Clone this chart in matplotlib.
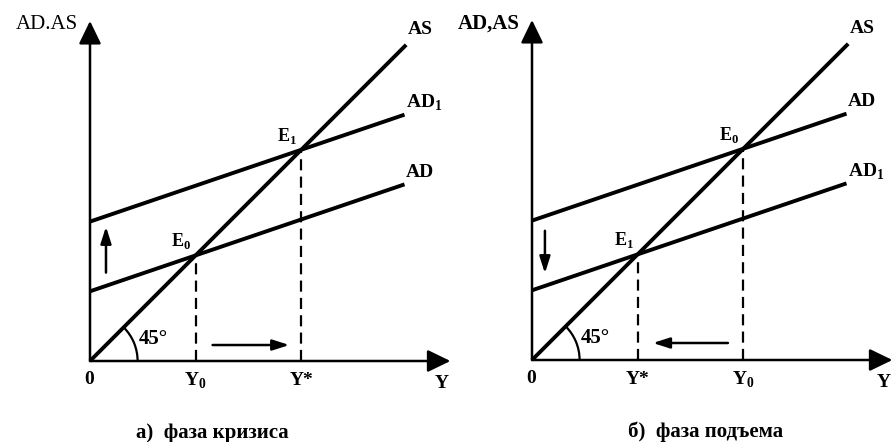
import numpy as np
import matplotlib.pyplot as plt
from matplotlib.patches import Arc

plt.rcParams['font.family'] = ['Liberation Serif', 'DejaVu Serif']
plt.rcParams['mathtext.fontset'] = 'custom'
plt.rcParams['mathtext.rm'] = 'Liberation Serif'
plt.rcParams['mathtext.bf'] = 'Liberation Serif:bold'

# model: AS is the 45 degree line, AD = a + b*Y
ad_low = 2.05       # intercept of the lower demand line
ad_high = 4.1       # intercept of the upper demand line
ad_slope = 0.34
x_end = 9.25        # where the AD lines stop
as_end = 9.3
axis_top = 10.0
axis_right = 10.6

# panel a) crisis: AD -> AD1 shifts up;  panel b) boom: AD -> AD1 shifts down
panel_titles = ['а)  фаза кризиса', 'б)  фаза подъема']
ylabels = ['AD.AS', 'AD,AS']
ad_names = [['AD', 'AD$_\\mathbf{1}$'], ['AD$_\\mathbf{1}$', 'AD']]
e_names = [['E$_\\mathbf{0}$', 'E$_\\mathbf{1}$'], ['E$_\\mathbf{1}$', 'E$_\\mathbf{0}$']]
tick_names = [['Y$_\\mathbf{0}$', 'Y*'], ['Y*', 'Y$_\\mathbf{0}$']]

PX = 34.0  # pixels per model unit
fig = plt.figure(figsize=(8.92, 4.42), dpi=100)
ax = fig.add_axes([0, 0, 1, 1])
ax.set_xlim(0, 892 / PX)
ax.set_ylim(0, 442 / PX)
ax.axis('off')

origins = [(90 / PX, (442 - 361) / PX), (532 / PX, (442 - 360) / PX)]
caption_x = [3.6, 5.1]
LW = 2.8


def arrow(p0, p1, big=False):
    if big:
        style = '-|>,head_length=0.7,head_width=0.34'
        lw = 1.8
    else:
        style = '-|>,head_length=0.5,head_width=0.16'
        lw = 1.8
    ax.annotate('', xy=p1, xytext=p0,
                arrowprops=dict(arrowstyle=style, lw=lw, color='black',
                                mutation_scale=20, shrinkA=0, shrinkB=0))


for k in range(2):
    ox, oy = origins[k]
    lower_first = (k == 0)
    intercepts = [ad_low, ad_high]
    e_vals = [a / (1 - ad_slope) for a in intercepts]

    # axes with arrows
    arrow((ox, oy), (ox, oy + axis_top), big=True)
    arrow((ox, oy), (ox + axis_right, oy), big=True)

    # AS line (45 degrees)
    xs = np.array([0, as_end])
    ax.plot(ox + xs, oy + xs, color='black', lw=LW, solid_capstyle='butt')
    ax.text(ox + as_end + 0.05, oy + as_end + 0.45, 'AS', fontsize=14,
            fontweight='bold', ha='left', va='center')

    # AD lines
    xs = np.array([0, x_end])
    for i, a in enumerate(intercepts):
        ys = a + ad_slope * xs
        ax.plot(ox + xs, oy + ys, color='black', lw=LW, solid_capstyle='butt')
        ax.text(ox + x_end + 0.05, oy + ys[-1] + 0.35, ad_names[k][i],
                fontsize=14, fontweight='bold', ha='left', va='center')

    # equilibria and dashed drop lines
    for i, e in enumerate(e_vals):
        ax.plot([ox + e, ox + e], [oy, oy + e], color='black', lw=1.6,
                dashes=(5, 2.8))
        ax.text(ox + e - 0.12, oy + e + 0.12, e_names[k][i], fontsize=13,
                fontweight='bold', ha='right', va='bottom')
        ax.text(ox + e, oy - 0.58, tick_names[k][i], fontsize=14,
                fontweight='bold', ha='center', va='center')

    # shift arrows
    if lower_first:
        arrow((ox + 0.47, oy + intercepts[0] + 0.55),
              (ox + 0.47, oy + intercepts[1] - 0.15))
        arrow((ox + e_vals[0] + 0.5, oy + 0.47),
              (ox + e_vals[1] - 0.35, oy + 0.47))
    else:
        arrow((ox + 0.38, oy + intercepts[1] - 0.3),
              (ox + 0.38, oy + intercepts[0] + 0.5))
        arrow((ox + e_vals[1] - 0.45, oy + 0.5),
              (ox + e_vals[0] + 0.45, oy + 0.5))

    # 45 degree arc
    ax.add_patch(Arc((ox, oy), 2 * 1.4, 2 * 1.4, theta1=0, theta2=45,
                     color='black', lw=1.6))
    ax.text(ox + 1.42, oy + 0.65, '45°', fontsize=15, fontweight='bold',
            ha='left', va='center')

    # axis labels
    ax.text(ox - 0.02, oy - 0.55, '0', fontsize=14, fontweight='bold',
            ha='center', va='center')
    ax.text(ox + 10.35, oy - 0.65, 'Y', fontsize=14, fontweight='bold',
            ha='center', va='center')
    ax.text(ox - 0.35, oy + axis_top - 0.1, ylabels[k], fontsize=15,
            fontweight='normal' if k == 0 else 'bold', ha='right',
            va='center')

    # caption
    ax.text(ox + caption_x[k], oy - 2.12, panel_titles[k], fontsize=15,
            fontweight='bold', ha='center', va='center')

fig.savefig('out.png', dpi=100)
